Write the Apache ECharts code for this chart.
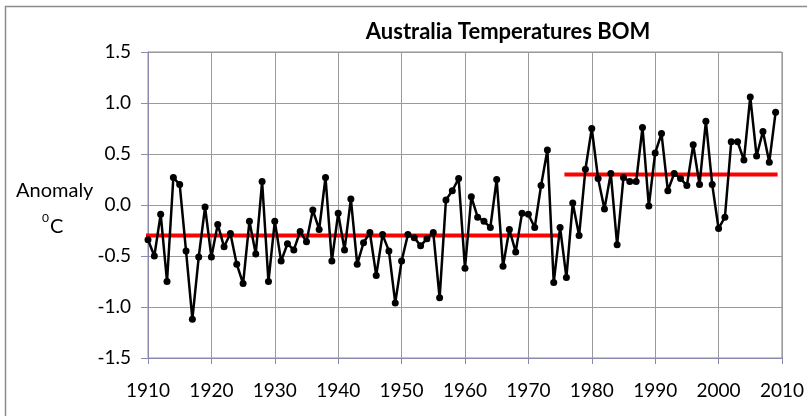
<!DOCTYPE html>
<html>
<head>
<meta charset="utf-8">
<title>Australia Temperatures BOM</title>
<script src="https://cdn.jsdelivr.net/npm/echarts@6/dist/echarts.min.js"></script>
<style>
  html, body { margin: 0; padding: 0; background: #fff; }
  #chart { width: 807px; height: 416px; }
</style>
</head>
<body>
<div id="chart"></div>
<script>
// annual temperature anomaly, deg C
const years = [
  1910, 1911, 1912, 1913, 1914, 1915, 1916, 1917, 1918, 1919,
  1920, 1921, 1922, 1923, 1924, 1925, 1926, 1927, 1928, 1929,
  1930, 1931, 1932, 1933, 1934, 1935, 1936, 1937, 1938, 1939,
  1940, 1941, 1942, 1943, 1944, 1945, 1946, 1947, 1948, 1949,
  1950, 1951, 1952, 1953, 1954, 1955, 1956, 1957, 1958, 1959,
  1960, 1961, 1962, 1963, 1964, 1965, 1966, 1967, 1968, 1969,
  1970, 1971, 1972, 1973, 1974, 1975, 1976, 1977, 1978, 1979,
  1980, 1981, 1982, 1983, 1984, 1985, 1986, 1987, 1988, 1989,
  1990, 1991, 1992, 1993, 1994, 1995, 1996, 1997, 1998, 1999,
  2000, 2001, 2002, 2003, 2004, 2005, 2006, 2007, 2008, 2009
]
const anomaly = [
  -0.34, -0.50, -0.09, -0.75, 0.27, 0.20, -0.45, -1.12, -0.51, -0.02,
  -0.51, -0.19, -0.41, -0.28, -0.58, -0.77, -0.16, -0.48, 0.23, -0.75,
  -0.16, -0.55, -0.38, -0.44, -0.26, -0.36, -0.05, -0.24, 0.27, -0.55,
  -0.08, -0.44, 0.06, -0.58, -0.37, -0.27, -0.69, -0.29, -0.45, -0.96,
  -0.55, -0.29, -0.32, -0.40, -0.33, -0.27, -0.91, 0.05, 0.14, 0.26,
  -0.62, 0.08, -0.12, -0.16, -0.22, 0.25, -0.60, -0.24, -0.46, -0.08,
  -0.09, -0.22, 0.19, 0.54, -0.76, -0.22, -0.71, 0.02, -0.30, 0.35,
  0.75, 0.26, -0.04, 0.31, -0.39, 0.27, 0.23, 0.23, 0.76, -0.01,
  0.51, 0.70, 0.14, 0.31, 0.26, 0.19, 0.59, 0.20, 0.82, 0.20,
  -0.23, -0.12, 0.62, 0.62, 0.44, 1.06, 0.48, 0.72, 0.42, 0.91
]

// mean of each period (red bars)
const earlyYears = [1910, 1975]
const earlyMean = -0.30
const lateYears = [1976, 2009]
const lateMean = 0.30

const xTicks = [1910, 2010, 10] // min, max, step
const yTicks = [-1.5, 1.5, 0.5]

const font = 'Lato, "Open Sans", sans-serif'
const axisColor = '#8a8ab0'
const gridColor = '#9a9a9a'

const chart = echarts.init(document.getElementById('chart'), null, { renderer: 'canvas' })

chart.setOption({
  animation: false,
  backgroundColor: '#fff',
  textStyle: { fontFamily: font },
  title: {
    text: 'Australia Temperatures BOM',
    left: 503,
    top: 16,
    textAlign: 'center',
    textStyle: { fontFamily: font, fontSize: 22, fontWeight: 'bold', color: '#000' }
  },
  graphic: [
    { // chart frame
      type: 'rect',
      shape: { x: 5.5, y: 6.5, width: 830, height: 430 },
      style: { fill: null, stroke: '#8c8c8c', lineWidth: 1.5 },
      silent: true
    },
    {
      type: 'text', left: 16, top: 181,
      style: { text: 'Anomaly', fontFamily: font, fontSize: 20, fill: '#000' }
    },
    {
      type: 'text', left: 42, top: 212,
      style: { text: '0', fontFamily: font, fontSize: 12, fill: '#000' }
    },
    {
      type: 'text', left: 50, top: 217,
      style: { text: 'C', fontFamily: font, fontSize: 20, fill: '#000' }
    }
  ],
  grid: {
    left: 148,
    right: 23,
    top: 52,
    bottom: 58,
    show: true,
    borderColor: axisColor,
    borderWidth: 1
  },
  xAxis: {
    type: 'value',
    min: xTicks[0],
    max: xTicks[1],
    interval: xTicks[2],
    axisLine: { show: true, onZero: false, lineStyle: { color: axisColor, width: 1 } },
    axisTick: { show: true, inside: false, length: 6, lineStyle: { color: axisColor } },
    axisLabel: { color: '#000', fontSize: 19, fontFamily: font, margin: 23, formatter: v => String(v) },
    splitLine: { show: true, lineStyle: { color: gridColor, width: 1 } }
  },
  yAxis: {
    type: 'value',
    min: yTicks[0],
    max: yTicks[1],
    interval: yTicks[2],
    axisLine: { show: true, lineStyle: { color: axisColor, width: 1 } },
    axisTick: { show: true, inside: false, length: 7, lineStyle: { color: axisColor } },
    axisLabel: {
      color: '#000',
      fontSize: 19,
      fontFamily: font,
      margin: 17,
      formatter: v => v.toFixed(1)
    },
    splitLine: { show: true, lineStyle: { color: gridColor, width: 1 } }
  },
  series: [
    {
      name: 'Early mean',
      type: 'line',
      data: earlyYears.map(y => [y, earlyMean]),
      symbol: 'none',
      lineStyle: { color: '#ff0000', width: 4, cap: 'square' },
      z: 2
    },
    {
      name: 'Late mean',
      type: 'line',
      data: lateYears.map(y => [y, lateMean]),
      symbol: 'none',
      lineStyle: { color: '#ff0000', width: 4, cap: 'square' },
      z: 2
    },
    {
      name: 'Anomaly',
      type: 'line',
      data: years.map((y, i) => [y, anomaly[i]]),
      symbol: 'circle',
      symbolSize: 7,
      showSymbol: true,
      itemStyle: { color: '#000' },
      lineStyle: { color: '#000', width: 2.5 },
      z: 3
    }
  ]
})
</script>
</body>
</html>
